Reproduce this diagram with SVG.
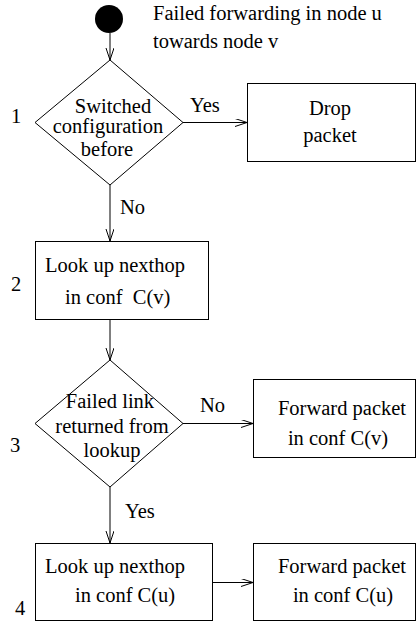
<svg xmlns="http://www.w3.org/2000/svg" width="416" height="624" viewBox="0 0 416 624">
<style>
text{font-family:"Liberation Serif","Times New Roman",serif;font-size:20.5px;fill:#000}
.c{text-anchor:middle}
.shape{fill:#fff;stroke:#000;stroke-width:1}
.edge{fill:none;stroke:#000;stroke-width:1}
</style>
<defs>
<marker id="arr" markerWidth="14" markerHeight="10" refX="12" refY="4" orient="auto" markerUnits="userSpaceOnUse">
<path d="M0,0 L12,4 L0,8" fill="none" stroke="#000" stroke-width="1"/>
</marker>
</defs>
<rect width="416" height="624" fill="#fff"/>
<g id="connectors">
<line class="edge" x1="110" y1="33" x2="110" y2="60" marker-end="url(#arr)"/>
<line class="edge" x1="183" y1="122.5" x2="247" y2="122.5" marker-end="url(#arr)"/>
<line class="edge" x1="110" y1="185" x2="110" y2="241" marker-end="url(#arr)"/>
<line class="edge" x1="110" y1="319" x2="110" y2="360" marker-end="url(#arr)"/>
<line class="edge" x1="183" y1="423.5" x2="253" y2="423.5" marker-end="url(#arr)"/>
<line class="edge" x1="110" y1="487" x2="110" y2="543" marker-end="url(#arr)"/>
<line class="edge" x1="213" y1="582.5" x2="253" y2="582.5" marker-end="url(#arr)"/>
<text x="190" y="112">Yes</text>
<text x="120" y="214">No</text>
<text x="200" y="412">No</text>
<text x="125" y="518">Yes</text>
</g>
<g id="start">
<circle cx="109" cy="19" r="14" fill="#000"/>
<text x="153" y="20">Failed forwarding in node u</text>
<text x="153" y="48">towards node v</text>
</g>
<g id="decision1">
<polygon class="shape" points="110,60 183,122.5 110,185 35,122.5"/>
<text class="c" x="113" y="113">Switched</text>
<text class="c" x="108" y="133">configuration</text>
<text class="c" x="107" y="156">before</text>
<text x="11" y="123">1</text>
</g>
<g id="drop">
<rect class="shape" x="247.5" y="83.5" width="168" height="78"/>
<text class="c" x="330" y="115">Drop</text>
<text class="c" x="330" y="142">packet</text>
</g>
<g id="lookup-v">
<rect class="shape" x="35.5" y="241.5" width="173" height="78"/>
<text x="45" y="272">Look up nexthop</text>
<text x="65" y="304" xml:space="preserve">in conf  C(v)</text>
<text x="11" y="291">2</text>
</g>
<g id="decision3">
<polygon class="shape" points="110,360 183,423.5 110,487 35,423.5"/>
<text class="c" x="110" y="408">Failed link</text>
<text class="c" x="112" y="433">returned from</text>
<text class="c" x="112" y="457">lookup</text>
<text x="10" y="452">3</text>
</g>
<g id="forward-v">
<rect class="shape" x="253.5" y="379.5" width="162" height="78"/>
<text class="c" x="342" y="415">Forward packet</text>
<text class="c" x="338" y="445">in conf C(v)</text>
</g>
<g id="lookup-u">
<rect class="shape" x="35.5" y="543.5" width="177" height="77"/>
<text x="45" y="573">Look up nexthop</text>
<text x="75" y="602">in conf C(u)</text>
<text x="15" y="615">4</text>
</g>
<g id="forward-u">
<rect class="shape" x="253.5" y="543.5" width="162" height="77"/>
<text class="c" x="342" y="573">Forward packet</text>
<text class="c" x="343" y="602">in conf C(u)</text>
</g>
</svg>
